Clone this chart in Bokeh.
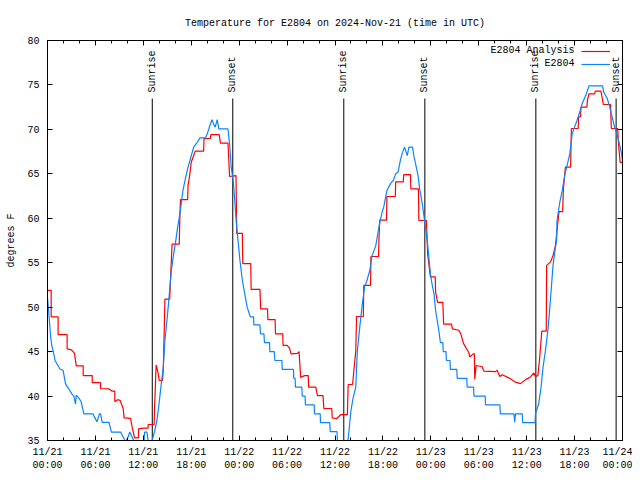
import math
from bokeh.plotting import figure
from bokeh.models import (Range1d, LinearAxis, FixedTicker, Legend, LegendItem,
                          Label, ColumnDataSource)
from bokeh.core.properties import value
from bokeh.embed import file_html
from bokeh.resources import INLINE

# ---------------- data (hours since 2024-11-21 00:00 UTC) ----------------
title_text = "Temperature for E2804 on 2024-Nov-21 (time in UTC)"
y_label = "degrees F"
series_names = ["E2804 Analysis", "E2804"]

analysis_t = [0, 0.46, 0.46, 1.33, 1.33, 2.46, 2.46, 3.0, 3.38, 3.6, 4.47, 4.47, 5.6, 5.6,
              6.64, 6.64, 7.7, 8.1, 8.43, 8.43, 8.8, 9.1, 9.47, 9.6, 10.4, 10.6, 10.9, 11.4,
              11.4, 12.0, 12.6, 12.6, 13.35, 13.4, 13.6, 13.8, 14.0, 14.4, 14.5, 14.65, 14.7,
              15.3, 15.45, 15.6, 16.5, 16.55, 16.65, 17.55, 17.6, 17.8, 18.0, 18.5, 19.55,
              19.6, 20.4, 20.45, 21.5, 21.66, 22.6, 22.8, 23.6, 23.7, 24.4, 24.45, 25.45, 25.5,
              26.6, 26.7, 27.55, 27.6, 28.5, 28.55, 29.45, 29.5, 30.0, 30.3, 30.5, 31.3, 31.5,
              31.7, 32.2, 32.65, 32.7, 33.6, 33.8, 34.5, 34.6, 35.6, 35.65, 36.2, 36.7, 37.55,
              37.65, 38.2, 38.6, 38.7, 39.55, 39.6, 40.45, 40.5, 41.45, 41.5, 41.6, 42.45, 42.5,
              43.55, 43.6, 44.55, 44.6, 45.45, 45.5, 46.45, 46.5, 47.45, 47.6, 47.95, 48.55,
              48.6, 48.85, 49.5, 49.6, 50.6, 50.7, 51.5, 51.75, 52.1, 52.75, 52.88, 53.3, 53.45,
              53.5, 53.68, 54.43, 54.63, 56.1, 56.3, 56.64, 56.93, 57.77, 58.6, 59.23, 59.86,
              60.48, 60.9, 61.1, 61.4, 61.6, 61.9, 62.45, 62.5, 63.0, 63.3, 63.6,
              63.8, 64.05, 64.5, 64.6, 64.85, 65.5, 65.6, 66.45, 66.5, 66.75, 66.8, 67.55, 67.6,
              67.8, 68.5, 68.6, 69.3, 69.4, 69.6, 70.5, 70.6, 71.4, 71.5, 71.7, 72.0]
analysis_v = [51.9, 51.9, 48.9, 48.9, 46.9, 46.9, 45.3, 45.2, 44.8, 43.4, 43.4, 42.3, 42.3, 41.5,
              41.5, 40.85, 40.8, 40.55, 40.55, 39.35, 39.6, 39.5, 38.6, 37.55, 37.5, 36.5, 35.3,
              35.3, 36.3, 36.4, 36.4, 36.8, 36.8, 38.5, 43.5, 42.8, 41.75, 41.75, 43.05, 48.6,
              50.9, 50.9, 54.1, 57.1, 57.1, 59.4, 62.1, 62.1, 63.7, 64.8, 66.3, 67.55, 67.55,
              68.95, 69.0, 69.4, 69.4, 68.45, 68.45, 64.7, 64.8, 58.3, 58.3, 54.9, 54.9, 52.0,
              52.0, 49.8, 49.8, 48.6, 48.6, 47.0, 47.0, 45.7, 45.7, 45.4, 44.75, 44.8, 45.0,
              42.1, 42.3, 42.3, 41.0, 41.0, 40.05, 40.05, 38.6, 38.6, 37.55, 37.45, 37.9, 37.9,
              41.3, 41.3, 45.1, 48.95, 48.95, 52.45, 52.45, 55.7, 55.7, 57.5, 59.8, 59.8, 62.45,
              62.45, 64.1, 64.1, 64.9, 64.9, 63.3, 63.3, 59.75, 59.75, 56.0, 53.4, 53.4,
              51.7, 50.55, 50.55, 48.1, 48.1, 47.55, 47.4, 47.0, 45.9, 44.9, 44.4, 44.75, 44.75,
              41.9, 43.44, 43.3, 42.8, 42.75, 42.9, 42.2, 42.4, 42.05, 41.56, 41.4, 41.85,
              42.15, 42.6, 42.2, 42.3, 44.0, 47.3, 47.3, 54.7, 55.1, 55.8, 56.9,
              58.6, 60.75, 60.75, 63.3, 65.75, 65.75, 70.1, 70.1, 71.4, 71.4, 72.5, 72.5, 73.25,
              74.0, 74.0, 74.3, 74.3, 73.8, 72.8, 72.8, 70.1, 70.1, 68.4, 66.3, 66.3]

obs_t = [0, 0.1, 0.2, 0.4, 0.55, 0.7, 0.95, 1.2, 1.55, 1.95, 2.25, 2.5, 2.67, 3.05, 3.3, 3.5,
         3.6, 3.9, 4.2, 4.55, 5.7, 5.9, 6.2, 6.5, 6.65, 6.85, 7.7, 8.0, 9.15, 9.7, 9.8, 10.1,
         10.3, 10.8, 11.0, 11.9, 12.1, 12.15, 12.45, 12.6, 13.0, 13.1, 13.4, 13.7, 13.9, 14.2,
         14.5, 14.7, 15.0, 15.2, 15.5, 15.8, 16.0, 16.3, 16.65, 16.95, 17.3, 17.6, 17.9, 18.3,
         18.75, 19.1, 19.8, 20.0, 20.4, 20.6, 20.8, 21.0, 21.25, 21.45, 22.6, 22.8, 23.0, 23.25,
         23.45, 23.65, 23.9, 24.1, 24.4, 24.7, 25.0, 25.4, 25.8, 25.85, 26.6, 26.67, 27.1,
         27.17, 27.8, 27.84, 28.4, 28.47, 29.35, 29.39, 30.8, 30.84, 31.0, 31.05, 31.85, 31.9,
         32.25, 32.3, 33.4, 33.43, 34.15, 34.18, 35.35, 35.4, 36.25, 36.3, 36.6,
         37.3, 37.65, 38.0, 38.25, 38.6, 38.8, 39.1, 39.4, 39.7, 40.0, 40.35, 40.65, 41.1, 41.5,
         41.7, 41.9, 42.1, 42.5, 42.95, 43.3, 43.6, 43.9, 44.2, 44.4, 44.7, 45.05, 45.25, 45.7,
         45.9, 46.1, 46.4, 46.6, 46.9, 47.1, 47.45, 47.55, 47.75, 47.95, 48.15, 48.4, 48.6, 48.8,
         49.0, 49.2, 49.5, 49.55, 49.9, 49.95, 50.4, 50.45, 51.25, 51.3, 52.5, 52.55, 53.35,
         53.4, 54.8, 54.85, 56.65, 56.7, 58.4, 58.5, 58.6, 59.45, 59.5, 61.05, 61.1,
         61.5, 61.8, 62.05, 62.35, 62.7, 63.0, 63.3, 63.6, 63.75, 63.8,
         64.15, 64.45, 64.8, 65.1, 65.4, 65.7, 66.0, 66.3, 66.65, 66.95, 67.4, 67.8, 69.5,
         69.65, 70.1, 70.4, 70.7, 71.0, 71.3, 71.6, 71.85, 72.0]
obs_v = [51.1, 50.0, 48.9, 46.6, 45.6, 45.1, 44.0, 43.6, 43.05, 42.9, 41.4, 41.0, 40.8, 40.25,
         40.0, 39.1, 40.1, 39.8, 39.4, 38.0, 38.0, 37.6, 37.1, 38.0, 38.0, 37.05, 37.05, 35.95,
         35.95, 35.0, 34.9, 35.4, 35.95, 35.0, 34.7, 34.7, 35.0, 35.95, 35.95, 35.0, 34.9, 35.0,
         36.0, 37.25, 38.6, 41.0, 43.25, 46.25, 48.9, 50.9, 54.1, 56.0, 57.1, 59.0, 60.9, 63.1,
         64.6, 65.75, 66.7, 68.0, 68.55, 69.05, 69.05, 69.5, 70.6, 71.1, 70.6, 70.25, 71.1,
         70.05, 70.05, 68.4, 65.75, 64.25, 62.0, 59.4, 57.1, 55.25, 53.0, 51.5, 50.0, 48.9,
         48.9, 48.0, 48.0, 47.0, 47.0, 46.0, 46.0, 45.0, 45.0, 44.0, 44.0, 43.0, 43.0, 42.0,
         42.0, 41.0, 41.0, 40.0, 40.0, 39.0, 39.0, 38.0, 38.0, 37.0, 37.0, 36.0, 36.0, 35.0,
         34.0, 34.0, 35.2, 38.4, 39.7, 41.0, 45.1, 47.75,
         50.2, 52.25, 53.0, 54.1, 55.8, 56.9, 59.0, 59.9, 60.7, 61.25, 63.1, 63.9, 64.25, 65.0,
         65.2, 66.6, 67.25, 68.0, 67.05, 68.0, 68.0, 66.9, 66.1, 64.8, 63.3, 61.8, 60.5, 58.25,
         57.5, 55.6, 53.75, 52.6, 51.5, 49.6, 48.5, 47.4, 46.0, 46.0, 45.0, 45.0, 44.0, 44.0,
         43.0, 43.0, 42.0, 42.0, 41.0, 41.0, 40.0, 40.0, 39.0, 39.0, 38.0, 38.0, 37.05, 38.0,
         38.0, 37.0, 37.0, 38.0, 39.1, 41.0,
         43.25, 45.1, 47.75, 51.1, 54.7, 56.75, 57.5, 59.75, 61.8, 63.1, 65.0, 66.1, 67.25,
         69.5, 70.25, 71.0, 71.95, 72.9, 73.8, 74.9, 74.9, 74.2, 73.45, 72.5, 71.4, 70.25,
         69.5, 68.4, 67.4, 66.5]

assert len(analysis_t) == len(analysis_v)
assert len(obs_t) == len(obs_v)

sun_t = [13.12, 23.2, 37.1, 47.25, 61.15, 71.2]
sun_label = ["Sunrise", "Sunset", "Sunrise", "Sunset", "Sunrise", "Sunset"]

x_ticks = [0, 6, 12, 18, 24, 30, 36, 42, 48, 54, 60, 66, 72]
x_tick_dates = ["11/21", "11/21", "11/21", "11/21", "11/22", "11/22", "11/22", "11/22",
                "11/23", "11/23", "11/23", "11/23", "11/24"]
x_tick_times = ["00:00", "06:00", "12:00", "18:00"] * 3 + ["00:00"]
x_minor = [h for h in range(0, 73, 2)]
y_ticks = [35, 40, 45, 50, 55, 60, 65, 70, 75, 80]

# ---------------- styling ----------------
FONT = "Liberation Mono"
FS = "10px"
RED = "#ff0000"
BLUE = "#0a84ff"

p = figure(width=632, height=476, x_range=Range1d(0, 72), y_range=Range1d(35, 80),
           x_axis_type=None, y_axis_type=None, output_backend="svg",
           toolbar_location=None, min_border_left=47, min_border_right=10,
           min_border_top=40, min_border_bottom=36)
p.background_fill_color = "white"
p.border_fill_color = "white"
p.outline_line_color = "black"
p.outline_line_width = 1
p.grid.visible = False

p.title.text = title_text
p.title.align = "center"
p.title.text_font = FONT
p.title.text_font_size = FS
p.title.text_font_style = "normal"
p.title.text_color = "black"
p.title.standoff = 23

def make_axis(kind, labels):
    ax = LinearAxis()
    if kind == "x":
        ax.ticker = FixedTicker(ticks=x_ticks, minor_ticks=x_minor)
    else:
        ax.ticker = FixedTicker(ticks=y_ticks, minor_ticks=[])
    ax.major_tick_in = 5
    ax.major_tick_out = 0
    ax.minor_tick_in = 3
    ax.minor_tick_out = 0
    ax.axis_line_color = "black"
    ax.major_tick_line_color = "black"
    ax.minor_tick_line_color = "black"
    ax.major_label_text_font = FONT
    ax.major_label_text_font_size = FS
    ax.major_label_text_color = "black"
    if labels is None:
        ticks = x_ticks if kind == "x" else y_ticks
        ax.major_label_overrides = {t: "" for t in ticks}
        ax.major_label_text_font_size = "0px"
        ax.major_label_standoff = 0
    else:
        ax.major_label_overrides = labels
    return ax

xlab = {t: f"{d}\n{tm}" for t, d, tm in zip(x_ticks, x_tick_dates, x_tick_times)}
ylab = {t: str(t) for t in y_ticks}

bottom = make_axis("x", xlab)
bottom.major_label_standoff = 6
top = make_axis("x", None)
left = make_axis("y", ylab)
left.major_label_standoff = 8
left.axis_label = y_label
left.axis_label_text_font = FONT
left.axis_label_text_font_size = FS
left.axis_label_text_font_style = "normal"
left.axis_label_text_color = "black"
left.axis_label_standoff = 7
right = make_axis("y", None)

p.add_layout(bottom, "below")
p.add_layout(left, "left")
p.add_layout(right, "right")
p.add_layout(top, "above")

# sunrise / sunset markers
sun_src = ColumnDataSource(dict(t=sun_t, y0=[35] * len(sun_t), y1=[73.47] * len(sun_t),
                                ly=[74.15] * len(sun_t), lab=sun_label))
p.segment(x0="t", y0="y0", x1="t", y1="y1", source=sun_src, line_color="black", line_width=1)
p.text(x="t", y="ly", text="lab", source=sun_src, angle=math.pi / 2,
       text_align="left", text_baseline="middle", text_font=value(FONT),
       text_font_size=value(FS), text_color="black")

r_red = p.line(analysis_t, analysis_v, line_color=RED, line_width=1.2)
r_blue = p.line(obs_t, obs_v, line_color=BLUE, line_width=1.2)

legend = Legend(items=[LegendItem(label=value(" "), renderers=[r_red]),
                       LegendItem(label=value(" "), renderers=[r_blue])],
                location=(534, 370), glyph_width=29, glyph_height=12, label_width=0,
                label_height=12, label_standoff=0, padding=0, spacing=1, margin=0,
                border_line_alpha=0, background_fill_alpha=0,
                label_text_font_size="1px")
p.add_layout(legend, "center")

for name, yy in zip(series_names, [78.875, 77.45]):
    p.add_layout(Label(x=66.0, y=yy, text=name, text_align="right", text_baseline="middle",
                       text_font=FONT, text_font_size=FS, text_color="black"))

open("out.html", "w").write(file_html(p, INLINE))
